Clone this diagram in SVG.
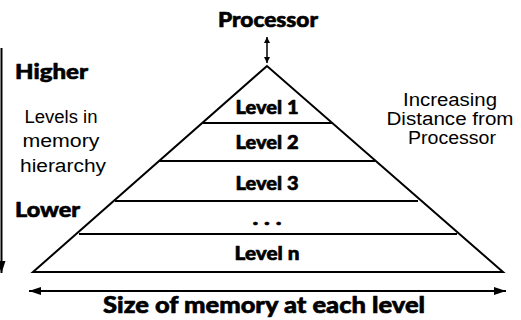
<svg xmlns="http://www.w3.org/2000/svg" width="521" height="320" viewBox="0 0 521 320">
<style>
.b{font-family:"Lato","Liberation Sans",Arial,sans-serif;font-weight:900;fill:#000;stroke:#000;stroke-width:0.6;stroke-linejoin:round}
.r{font-family:"Liberation Sans",Arial,sans-serif;fill:#000}
.ln{stroke:#000;stroke-width:2;fill:none}
</style>
<defs>
<marker id="ah" viewBox="0 0 10 10" refX="10" refY="5" markerWidth="6" markerHeight="6" markerUnits="userSpaceOnUse" orient="auto-start-reverse"><path d="M0,0 L10,5 L0,10 Z" fill="#000"/></marker>
<marker id="ahb" viewBox="0 0 12 8" refX="12" refY="4" markerWidth="12" markerHeight="8" markerUnits="userSpaceOnUse" orient="auto-start-reverse"><path d="M0,0 L12,4 L0,8 Z" fill="#000"/></marker>
</defs>
<g id="pyramid">
<polygon points="267,66 33,272 503,272" class="ln" stroke-linejoin="miter"/>
<line x1="203" y1="123" x2="332" y2="123" class="ln"/>
<line x1="159" y1="161" x2="375" y2="161" class="ln"/>
<line x1="115" y1="201" x2="418" y2="201" class="ln"/>
<line x1="79" y1="234" x2="457" y2="234" class="ln"/>
</g>
<g id="processor"><text class="b" x="268" y="27" font-size="21" text-anchor="middle" textLength="100" lengthAdjust="spacingAndGlyphs">Processor</text></g>
<g id="level1"><text class="b" x="267" y="114" font-size="18.5" text-anchor="middle" textLength="63" lengthAdjust="spacingAndGlyphs">Level 1</text></g>
<g id="level2"><text class="b" x="267" y="149" font-size="18.5" text-anchor="middle" textLength="63" lengthAdjust="spacingAndGlyphs">Level 2</text></g>
<g id="level3"><text class="b" x="267" y="190" font-size="18.5" text-anchor="middle" textLength="63" lengthAdjust="spacingAndGlyphs">Level 3</text></g>
<g id="dots"><text class="b" x="267" y="225" font-size="18.5" text-anchor="middle" textLength="29" lengthAdjust="spacingAndGlyphs">. . .</text></g>
<g id="leveln"><text class="b" x="267" y="260" font-size="18.5" text-anchor="middle" textLength="65" lengthAdjust="spacingAndGlyphs">Level n</text></g>
<g id="higher"><text class="b" x="15" y="79" font-size="21" textLength="73" lengthAdjust="spacingAndGlyphs">Higher</text></g>
<g id="lower"><text class="b" x="15" y="217" font-size="21" textLength="65" lengthAdjust="spacingAndGlyphs">Lower</text></g>
<g id="levels-label">
<text class="r" x="61" y="123" font-size="18" text-anchor="middle" textLength="73" lengthAdjust="spacingAndGlyphs">Levels in</text>
<text class="r" x="61" y="147" font-size="18" text-anchor="middle" textLength="77" lengthAdjust="spacingAndGlyphs">memory</text>
<text class="r" x="63" y="172" font-size="18" text-anchor="middle" textLength="86" lengthAdjust="spacingAndGlyphs">hierarchy</text>
</g>
<g id="distance-label">
<text class="r" x="450" y="106" font-size="18" text-anchor="middle" textLength="94" lengthAdjust="spacingAndGlyphs">Increasing</text>
<text class="r" x="450" y="125" font-size="18" text-anchor="middle" textLength="127" lengthAdjust="spacingAndGlyphs">Distance from</text>
<text class="r" x="452" y="144" font-size="18" text-anchor="middle" textLength="88" lengthAdjust="spacingAndGlyphs">Processor</text>
</g>
<g id="size-label"><text class="b" x="264" y="313" font-size="23" text-anchor="middle" textLength="322" lengthAdjust="spacingAndGlyphs">Size of memory at each level</text></g>
<g id="connectors">
<line x1="267" y1="37" x2="267" y2="63" stroke="#000" stroke-width="1.5" marker-start="url(#ah)" marker-end="url(#ah)"/>
<line x1="1.5" y1="48" x2="1.5" y2="273" stroke="#000" stroke-width="2" marker-end="url(#ahb)"/>
<line x1="29" y1="291" x2="506" y2="291" stroke="#000" stroke-width="2" marker-start="url(#ahb)" marker-end="url(#ahb)"/>
</g>
</svg>
